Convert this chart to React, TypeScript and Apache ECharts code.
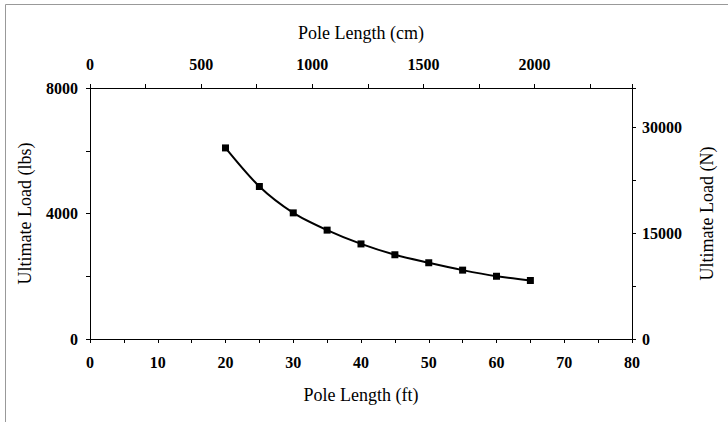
import React, { useEffect, useRef } from "react";
import * as echarts from "echarts";

const lengthFt = [20, 25, 30, 35, 40, 45, 50, 55, 60, 65];
const loadLbs = [6090, 4860, 4020, 3470, 3030, 2685, 2430, 2195, 2000, 1865];

const ftMax = 80;
const lbsMax = 8000;
const cmMax = ftMax * 30.48;
const nMax = lbsMax * 4.44822;

const FONT = '"Liberation Serif", "Times New Roman", serif';

const labelStyle = { fontFamily: FONT, fontSize: 16, fontWeight: "bold" as const, color: "#000" };
const nameStyle = { fontFamily: FONT, fontSize: 18, color: "#000" };
const lineStyle = { color: "#000", width: 1 };

function mk(v: number, step: number) {
  return Math.abs(v / step - Math.round(v / step)) < 1e-6 ? String(Math.round(v)) : "";
}

function axis(pos: string, max: number, interval: number, step: number, name: string, nameGap: number, margin: number) {
  return {
    type: "value",
    position: pos,
    min: 0,
    max,
    interval,
    name,
    nameLocation: "middle",
    nameGap,
    nameTextStyle: nameStyle,
    axisLine: { show: true, onZero: false, lineStyle },
    axisTick: { show: true, inside: false, length: 4, lineStyle },
    splitLine: { show: false },
    axisLabel: { show: true, margin, ...labelStyle, formatter: (v: number) => mk(v, step) },
  };
}

export default function App() {
  const ref = useRef<HTMLDivElement>(null);
  useEffect(() => {
    if (!ref.current) return;
    const chart = echarts.init(ref.current, null, { renderer: "svg" });
    const option: any = {
      animation: false,
      backgroundColor: "#fff",
      grid: { left: 90, right: 96, top: 88, bottom: 83, containLabel: false },
      xAxis: [
        axis("bottom", ftMax, 5, 10, "Pole Length (ft)", 47, 15),
        axis("top", cmMax, 250, 500, "Pole Length (cm)", 46, 16),
      ],
      yAxis: [
        axis("left", lbsMax, 2000, 4000, "Ultimate Load (lbs)", 56, 12),
        axis("right", nMax, 7500, 15000, "Ultimate Load (N)", 66, 10),
      ],
      graphic: [
        {
          type: "rect",
          shape: { x: 5.5, y: 4.5, width: 740, height: 440 },
          style: { fill: "none", stroke: "#999", lineWidth: 1 },
          silent: true,
        },
      ],
      series: [
        {
          type: "line",
          xAxisIndex: 0,
          yAxisIndex: 0,
          data: lengthFt.map((x, i) => [x, loadLbs[i]]),
          smooth: 0.3,
          symbol: "rect",
          symbolSize: 7,
          itemStyle: { color: "#000" },
          lineStyle: { color: "#000", width: 2 },
        },
      ],
    };
    chart.setOption(option);
    return () => chart.dispose();
  }, []);
  return (
    <div
      ref={ref}
      style={{ position: "fixed", left: 0, top: 0, width: 728, height: 422, background: "#fff" }}
    />
  );
}
